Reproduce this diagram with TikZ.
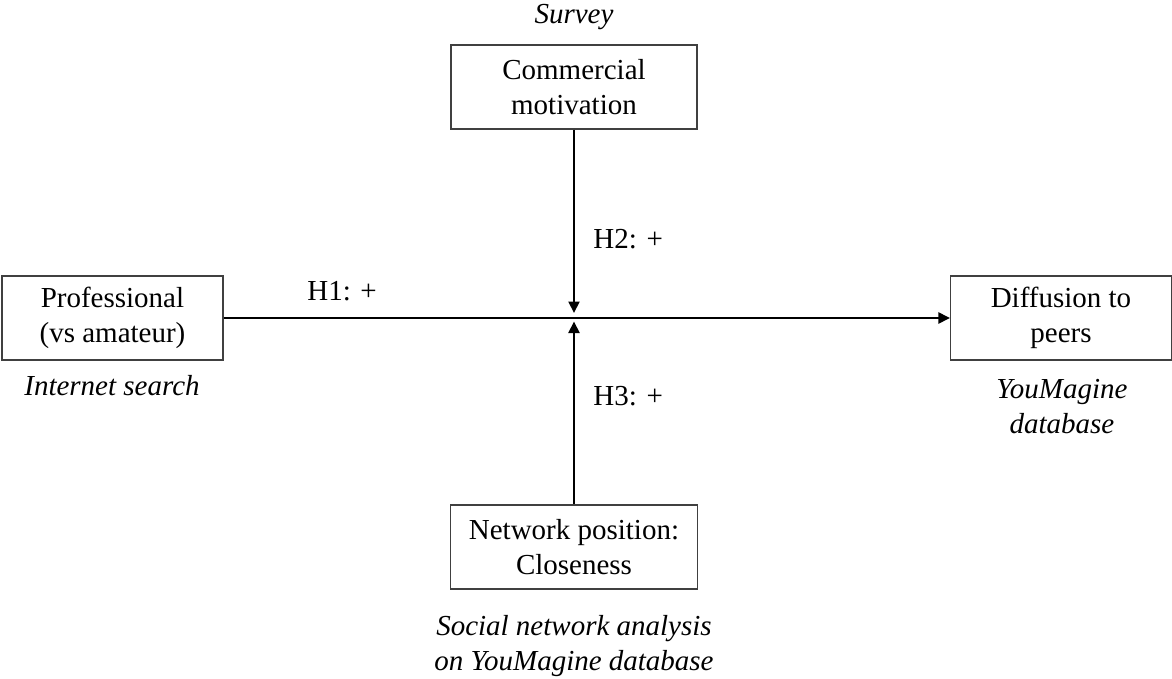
\documentclass[tikz,border=0pt]{standalone}
\usepackage{fontspec}
\setmainfont{Liberation Serif}
\usepackage{tikz}
\usetikzlibrary{arrows.meta,positioning}
\newcommand{\diagfont}{\fontsize{16.5}{19.9}\selectfont}
\tikzset{
  hyparrow/.style={-{Triangle[length=2.3mm,width=2.2mm]}, line width=1.2pt, draw=black},
  hyplabel/.style={anchor=base west, inner sep=0pt},
  sourcelabel/.style={font=\diagfont\itshape, align=center, anchor=base, inner sep=0pt}
}

\begin{document}
\begin{tikzpicture}[
  font=\diagfont,
  box/.style={draw=black!75, line width=0.6pt, align=center, minimum height=1.68cm, inner sep=2pt}
]
\useasboundingbox (-11.48,-7.2) rectangle (11.96,6.36);

\coordinate (hub) at (0,0);
\node[box, minimum width=4.92cm] at (0,4.62) (comm) {Commercial\\motivation};
\node[box, minimum width=4.42cm] at (-9.23,0) (prof) {Professional\\(vs amateur)};
\node[box, minimum width=4.42cm] at (9.74,0) (diff) {Diffusion to\\peers};
\node[box, minimum width=4.94cm] at (0,-4.58) (netpos) {Network position:\\Closeness};

% data sources (base = last line)
\node[sourcelabel] at (0,5.88) (src1) {Survey};
\node[sourcelabel] at (-9.24,-1.54) (src2) {Internet search};
\node[sourcelabel] at (9.76,-2.3) (src3) {YouMagine\\database};
\node[sourcelabel] at (0,-7.04) (src4) {Social network analysis\\on YouMagine database};

% hypotheses
\draw[hyparrow] (prof.east) -- (diff.west);
\draw[hyparrow, shorten >=0.1cm] (comm.south) -- (hub);
\draw[hyparrow, shorten >=0.07cm] (netpos.north) -- (hub);
\node[hyplabel] at (-5.34,0.36) (h1) {H1: +};
\node[hyplabel] at (0.38,1.4) (h2) {H2: +};
\node[hyplabel] at (0.38,-1.74) (h3) {H3: +};
\end{tikzpicture}
\end{document}
